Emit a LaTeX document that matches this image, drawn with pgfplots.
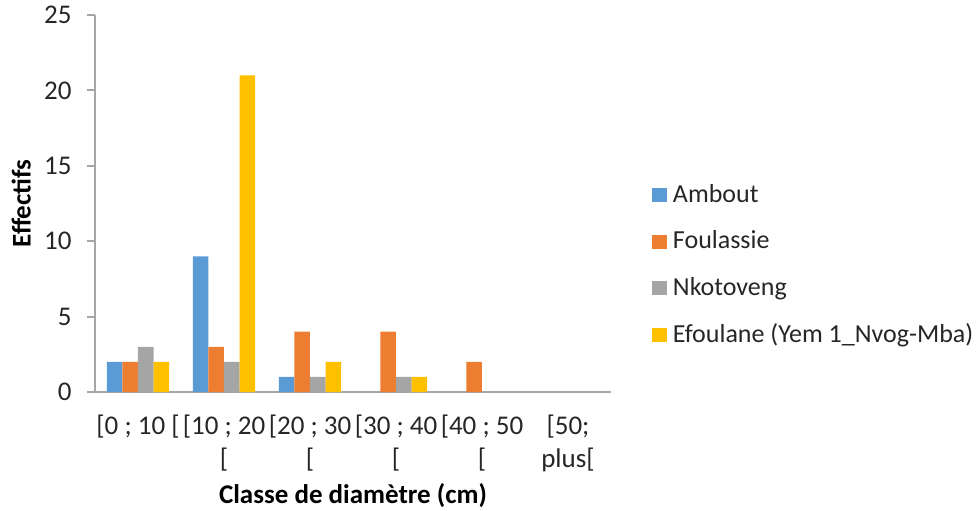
\documentclass[border=0pt]{standalone}
\usepackage{fontspec}
\setmainfont{Carlito}
\usepackage{pgfplots}
\pgfplotsset{compat=1.18}
\definecolor{cA}{HTML}{5B9BD5}
\definecolor{cF}{HTML}{ED7D31}
\definecolor{cN}{HTML}{A5A5A5}
\definecolor{cE}{HTML}{FFC000}
\definecolor{axl}{HTML}{A6A6A6}
\definecolor{txt}{HTML}{262626}
\begin{document}
\fontsize{13.5}{16}\selectfont
\begin{tikzpicture}
\path[use as bounding box] (-47.5pt,-59pt) rectangle (442pt,196pt);
\begin{axis}[
  at={(0,0)}, anchor=south west,
  scale only axis, width=258pt, height=188.5pt,
  ybar=0pt, bar width=7.8pt,
  xmin=-0.5, xmax=5.5, ymin=0, ymax=25,
  xtick={0,...,5},
  xticklabels={{[0 ; 10 [},{[10 ; 20\\{}[},{[20 ; 30\\{}[},{[30 ; 40\\{}[},{[40 ; 50\\{}[},{[50;\\plus[}},
  xticklabel style={align=center, font=\fontsize{13.5}{16.5}\selectfont, text=txt, yshift=-3pt},
  yticklabel style={font=\fontsize{13.5}{16}\selectfont, text=txt, xshift=-3pt},
  x tick style={draw=none},
  ytick={0,5,...,25},
  tick align=outside, major tick length=4pt,
  y tick style={axl, line width=1pt},
  axis x line*=bottom, axis y line*=left,
  axis line style={axl, line width=1pt},
  /pgf/number format/assume math mode=true,
  xlabel={\textbf{Classe de diamètre (cm)}},
  ylabel={\textbf{Effectifs}},
  xlabel style={at={(axis description cs:0.5,-0.275)}, anchor=center, font=\fontsize{13.5}{16}\selectfont},
  ylabel style={at={(axis description cs:-0.143,0.5)}, anchor=center, rotate=0, font=\fontsize{13.5}{16}\selectfont},
  legend style={at={(1.079,0.3355)}, anchor=west, draw=none, fill=none, inner sep=0pt,
    row sep=10.2pt, font=\fontsize{13}{15.5}\selectfont, text=txt,
    nodes={inner sep=1pt},
    /tikz/every odd column/.append style={column sep=2pt}},
  legend cell align=left,
  legend image code/.code={\fill[#1] (0pt,-3.4pt) rectangle (7.4pt,3.4pt);},
]
\addplot[fill=cA, draw=none] coordinates {(0,2) (1,9) (2,1)};
\addplot[fill=cF, draw=none] coordinates {(0,2) (1,3) (2,4) (3,4) (4,2)};
\addplot[fill=cN, draw=none] coordinates {(0,3) (1,2) (2,1) (3,1)};
\addplot[fill=cE, draw=none] coordinates {(0,2) (1,21) (2,2) (3,1)};
\legend{Ambout, Foulassie, Nkotoveng, Efoulane (Yem 1\_Nvog-Mba)}
\end{axis}
\end{tikzpicture}
\end{document}
